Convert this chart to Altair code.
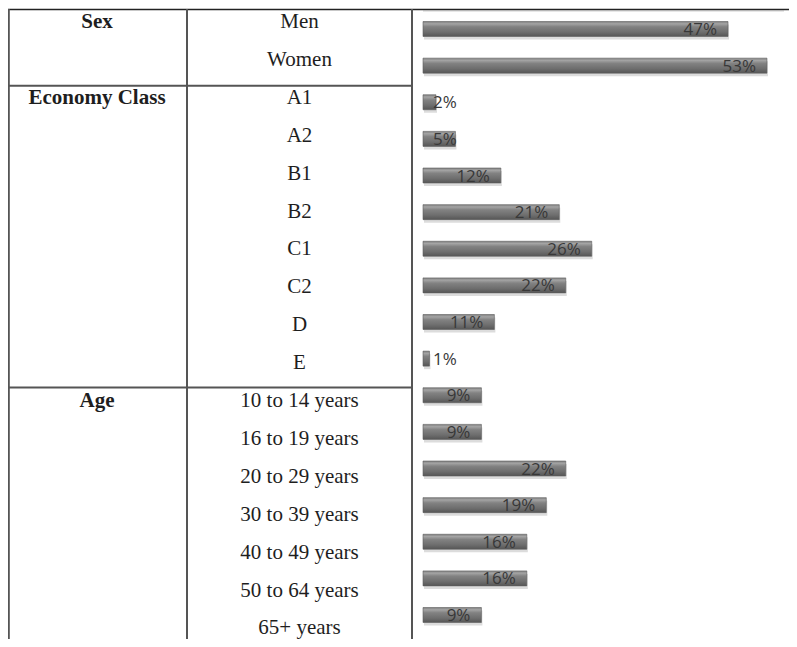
import altair as alt
import pandas as pd

# ---- data ----
groups = ["Sex", "Sex",
          "Economy Class", "Economy Class", "Economy Class", "Economy Class",
          "Economy Class", "Economy Class", "Economy Class", "Economy Class",
          "Age", "Age", "Age", "Age", "Age", "Age", "Age"]
categories = ["Men", "Women", "A1", "A2", "B1", "B2", "C1", "C2", "D", "E",
              "10 to 14 years", "16 to 19 years", "20 to 29 years",
              "30 to 39 years", "40 to 49 years", "50 to 64 years", "65+ years"]
values = [47, 53, 2, 5, 12, 21, 26, 22, 11, 1, 9, 9, 22, 19, 16, 16, 9]

df = pd.DataFrame({"group": groups, "category": categories, "value": values})
df["row"] = range(len(df))
df["label"] = df["value"].astype(str) + "%"
gdf = df.groupby("group", sort=False)["row"].min().reset_index()

W, H = 781, 631
N = len(df) - 1

# scales
x_bar = alt.Scale(domain=[0, 100], range=[415, 1064], padding=0)
y_bar = alt.Scale(domain=[0, N], range=[21, 607], padding=0)
y_txt = alt.Scale(domain=[0, N], range=[14, 620.4], padding=0)

base = alt.Chart(df)

grad = alt.Gradient(
    gradient="linear", x1=0, x2=0, y1=0, y2=1,
    stops=[alt.GradientStop(color="#7e7e7e", offset=0),
           alt.GradientStop(color="#a4a4a4", offset=0.15),
           alt.GradientStop(color="#828282", offset=0.35),
           alt.GradientStop(color="#6e6e6e", offset=0.7),
           alt.GradientStop(color="#565656", offset=1)])

shadow = base.mark_bar(orient="horizontal", size=15, color="#c4c4c4",
                       opacity=0.6, yOffset=3, xOffset=1).encode(
    x=alt.X("value:Q", scale=x_bar, axis=None),
    y=alt.Y("row:Q", scale=y_bar, axis=None))

bars = base.mark_bar(orient="horizontal", size=15, color=grad,
                     stroke="#5e5e5e", strokeWidth=0.6).encode(
    x=alt.X("value:Q", scale=x_bar, axis=None),
    y=alt.Y("row:Q", scale=y_bar, axis=None))

lab_in = base.transform_filter("datum.value >= 6").mark_text(
    align="right", baseline="middle", dx=-11, dy=1, font="Open Sans",
    fontSize=17, color="#383838").encode(
    x=alt.X("value:Q", scale=x_bar, axis=None),
    y=alt.Y("row:Q", scale=y_bar, axis=None),
    text="label:N")

lab_out = base.transform_calculate(zero="0").transform_filter(
    "datum.value < 6").mark_text(
    align="left", baseline="middle", dx=10, dy=1, font="Open Sans",
    fontSize=17, color="#383838").encode(
    x=alt.X("zero:Q", scale=x_bar, axis=None),
    y=alt.Y("row:Q", scale=y_bar, axis=None),
    text="label:N")

cat_txt = base.mark_text(align="center", baseline="middle", font="Liberation Serif",
                         fontSize=21, color="#1e1e1e").encode(
    x=alt.value(291.5),
    y=alt.Y("row:Q", scale=y_txt, axis=None),
    text="category:N")

grp_txt = alt.Chart(gdf).mark_text(align="center", baseline="middle",
                                   font="Liberation Serif", fontSize=21,
                                   fontWeight="bold", color="#1e1e1e").encode(
    x=alt.value(89),
    y=alt.Y("row:Q", scale=y_txt, axis=None),
    text="group:N")

def rule(x, x2, y, y2, color="#555555", w=2):
    return alt.Chart(df.head(1)).mark_rule(color=color, strokeWidth=w).encode(
        x=alt.value(x), x2=alt.value(x2), y=alt.value(y), y2=alt.value(y2))

lines = [
    rule(0, W, 1.5, 1.5, "#222222", 1.6),
    rule(415, 776, 2.8, 2.8, "#b0b0b0", 1),
    rule(0.8, 0.8, 1, H),
    rule(179, 179, 1, H),
    rule(404, 404, 1, H),
    rule(0, 404, 77.7, 77.7),
    rule(0, 404, 379.6, 379.6),
]

left = alt.layer(cat_txt, grp_txt, *lines)
right = alt.layer(shadow, bars, lab_in, lab_out)

chart = alt.layer(left, right).resolve_scale(y="independent", x="independent").properties(
    width=W, height=H, padding=0, autosize=alt.AutoSizeParams(type="none")
).configure_view(stroke=None)

chart.save("out.html", embed_options={"renderer": "svg", "actions": False})
